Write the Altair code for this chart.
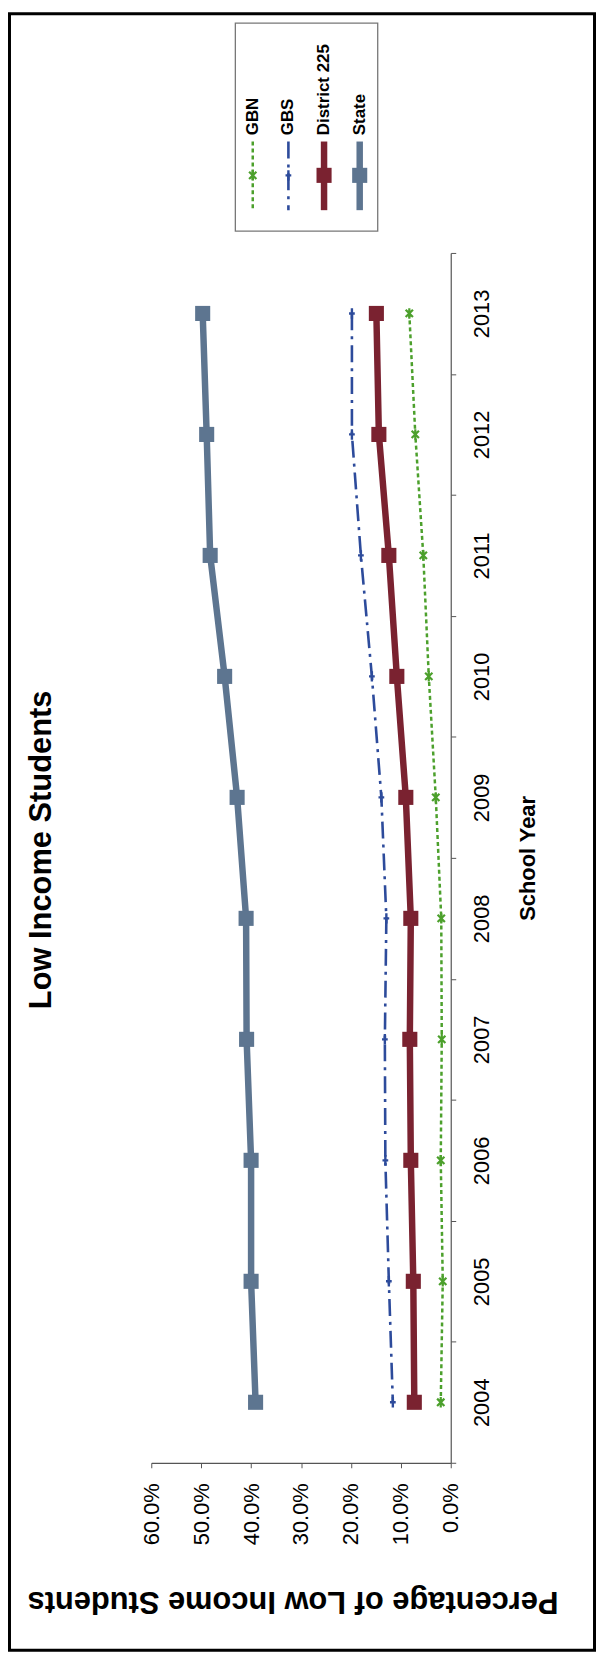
import altair as alt
import pandas as pd

FONT = "Liberation Sans"

# ---- data (percent of low income students) ----
years = ["2004", "2005", "2006", "2007", "2008", "2009", "2010", "2011", "2012", "2013"]
series_names = ["GBN", "GBS", "District 225", "State"]
gbn = [2.0, 1.6, 2.0, 1.8, 1.9, 3.0, 4.4, 5.5, 7.1, 8.3]
gbs = [11.6, 12.4, 13.1, 13.2, 12.9, 13.9, 15.8, 18.0, 19.8, 19.8]
district = [7.3, 7.5, 8.0, 8.2, 8.0, 9.0, 10.8, 12.4, 14.4, 14.9]
state = [39.1, 40.0, 40.0, 40.9, 41.0, 42.8, 45.3, 48.2, 48.9, 49.7]
pct_ticks = [0.0, 0.1, 0.2, 0.3, 0.4, 0.5, 0.6]

series_colors = ["#4CA02C", "#2D4B9B", "#7A2230", "#5D7590"]

rows = []
for name, vals in zip(series_names, [gbn, gbs, district, state]):
    for yr, v in zip(years, vals):
        rows.append({"series": name, "year": yr, "pct": v / 100.0})
df = pd.DataFrame(rows)
leg_df = pd.DataFrame({"series": series_names})

GBN_PATH = "M-0.7,-0.7L0.7,0.7M-0.7,0.7L0.7,-0.7M0,-1L0,1"
GBS_PATH = "M0,-1L0,1M-0.55,0L0.55,0"

styles = {
    "GBN": dict(line=dict(strokeWidth=2.5, strokeDash=[4, 3]),
                pt=dict(shape=GBN_PATH, size=110, filled=False, strokeWidth=2.2)),
    "GBS": dict(line=dict(strokeWidth=2.6, strokeDash=[17, 6, 3, 6]),
                pt=dict(shape=GBS_PATH, size=110, filled=False, strokeWidth=2.4)),
    "District 225": dict(line=dict(strokeWidth=6.5),
                         pt=dict(shape="square", size=230, filled=True)),
    "State": dict(line=dict(strokeWidth=6.5),
                  pt=dict(shape="square", size=230, filled=True)),
}

x_enc = alt.X(
    "pct:Q",
    scale=alt.Scale(domain=[0, 0.6], reverse=True, nice=False, zero=True),
    axis=alt.Axis(
        values=pct_ticks, format=".1%", grid=False,
        labelAngle=270, labelAlign="right", labelBaseline="middle",
        labelFontSize=22, labelFont=FONT, labelColor="black", labelPadding=15,
        labelFlush=False, labelOverlap=False,
        tickSize=5, tickColor="#555555", domainColor="#555555", domainWidth=1.2,
        title="Percentage of Low Income Students", titleAngle=180,
        titleFontSize=31, titleFont=FONT, titleFontWeight="bold", titleColor="black",
        titleAlign="center", titleBaseline="middle", titleX=142, titleY=138,
    ),
)
y_enc = alt.Y(
    "year:O",
    sort="descending",
    bandPosition=0.5,
    scale=alt.Scale(type="band", paddingInner=0, paddingOuter=0),
    axis=alt.Axis(
        orient="right", tickBand="extent", grid=False,
        labelAngle=270, labelAlign="center", labelBaseline="alphabetic",
        labelFontSize=22, labelFont=FONT, labelColor="black", labelPadding=33,
        tickSize=5, tickColor="#555555", domainColor="#555555", domainWidth=1.2,
        title="School Year", titleAngle=270, titleFontSize=22, titleFont=FONT,
        titleFontWeight="bold", titleColor="black", titleAlign="center",
        titleBaseline="alphabetic", titleX=84, titleY=608,
    ),
)

main_layers = []
for name, color in zip(series_names, series_colors):
    st = styles[name]
    base = alt.Chart(df).transform_filter(alt.datum.series == name)
    line = base.mark_line(color=color, strokeJoin="round", **st["line"]).encode(x=x_enc, y=y_enc)
    pts = base.mark_point(color=color, opacity=1, **st["pt"]).encode(x=x_enc, y=y_enc)
    main_layers += [line, pts]
main = alt.layer(*main_layers)

# ---- legend (drawn as marks, rotated like the page) ----
leg_x = alt.X(
    "series:N",
    scale=alt.Scale(type="point", domain=series_names, range=[102, 209.5], padding=0),
    axis=None,
)
leg_layers = []
for name, color in zip(series_names, series_colors):
    st = styles[name]
    lb = alt.Chart(leg_df).transform_filter(alt.datum.series == name)
    rl = lb.mark_rule(color=color, **st["line"]).encode(
        x=leg_x, y=alt.value(-112), y2=alt.value(-43))
    lp = lb.mark_point(color=color, opacity=1, **st["pt"]).encode(x=leg_x, y=alt.value(-78))
    leg_layers += [rl, lp]
leg_text = alt.Chart(leg_df).mark_text(
    angle=270, align="left", baseline="middle", fontSize=17, fontWeight="bold",
    font=FONT, color="black",
).encode(x=leg_x, y=alt.value(-118.3), text="series:N")
legend = alt.layer(*leg_layers, leg_text)

one = pd.DataFrame({"k": [0]})
legend_box = alt.Chart(one).mark_rect(
    fillOpacity=0, stroke="#777777", strokeWidth=1.3
).encode(x=alt.value(84.5), x2=alt.value(227.6), y=alt.value(-231), y2=alt.value(-22))

frame = alt.Chart(one).mark_rect(
    fillOpacity=0, stroke="black", strokeWidth=3
).encode(x=alt.value(-142.5), x2=alt.value(445.5), y=alt.value(-240.5), y2=alt.value(1404.5))

chart = alt.layer(frame, legend_box, main, legend).resolve_scale(
    x="independent", y="independent"
).properties(
    width=301, height=1216, padding=0, background="white",
    title=alt.TitleParams(
        text="Low Income Students", orient="left", frame="group", anchor="middle",
        offset=-74, fontSize=31, fontWeight="bold", font=FONT, color="black",
        baseline="alphabetic", dx=8,
    ),
).configure(font=FONT).configure_view(stroke=None)

chart.save("out.html", embed_options={"renderer": "svg", "actions": False})
